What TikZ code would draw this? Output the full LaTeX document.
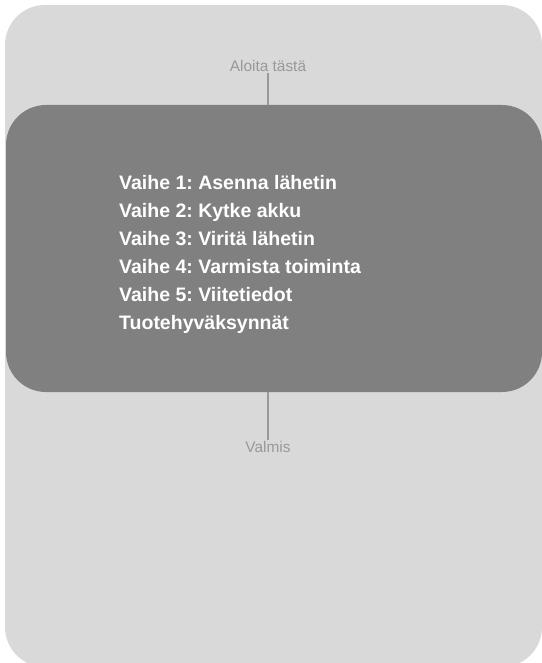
\documentclass[tikz,border=0pt]{standalone}
\usepackage{fontspec}
\setmainfont{Liberation Sans}
\usetikzlibrary{positioning}
\frenchspacing

\definecolor{panelgrey}{HTML}{D9D9D9}
\definecolor{boxgrey}{HTML}{808080}
\definecolor{linegrey}{HTML}{999999}

\tikzset{
	lbl/.style={text=linegrey, font=\fontsize{15.4}{18}\selectfont, inner sep=1pt},
	link/.style={draw=linegrey, line width=2.8pt},
}

\begin{document}
\begin{tikzpicture}[x=1pt, y=-1pt, node distance=2cm]
	\useasboundingbox (0,0) rectangle (541,663);
	\fill[panelgrey, rounded corners=40pt] (5,5) rectangle (542,667);

	\node(Box) [fill=boxgrey, rounded corners=40pt, minimum width=536pt, minimum height=287pt, inner sep=0] at (274,248.5) {};
	\node(Steps) [anchor=north west, inner sep=0, align=left, text=white, font=\fontsize{19.5}{28}\selectfont\bfseries] at (119,174.8)
		{Vaihe 1: Asenna lähetin\\Vaihe 2: Kytke akku\\Vaihe 3: Viritä lähetin\\Vaihe 4: Varmista toiminta\\Vaihe 5: Viitetiedot\\Tuotehyväksynnät};

	\node(Start) [lbl] at (268,66) {Aloita tästä};
	\node(Done) [lbl] at (268,447) {Valmis};

	\draw[link] (Start.south) -- (Start.south |- Box.north);
	\draw[link] (Done.north |- Box.south) -- (Done.north);

\end{tikzpicture}
\end{document}
